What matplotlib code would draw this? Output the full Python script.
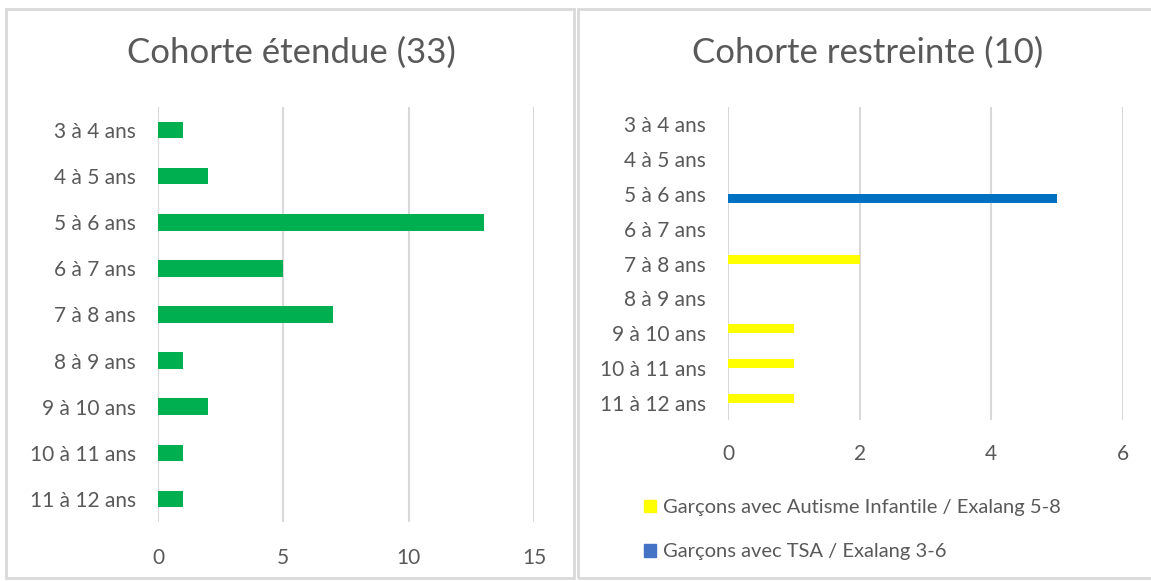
import matplotlib
matplotlib.use("Agg")
import matplotlib.pyplot as plt
import numpy as np
from matplotlib.patches import Rectangle, Patch

plt.rcParams['font.family'] = ['Lato', 'DejaVu Sans']

categories = ["3 à 4 ans", "4 à 5 ans", "5 à 6 ans", "6 à 7 ans", "7 à 8 ans",
              "8 à 9 ans", "9 à 10 ans", "10 à 11 ans", "11 à 12 ans"]
etendue = [1, 2, 13, 5, 7, 1, 2, 1, 1]
autisme_5_8 = [0, 0, 0, 0, 2, 0, 1, 1, 1]
tsa_3_6 = [0, 0, 5, 0, 0, 0, 0, 0, 0]
left_ticks = [0, 5, 10, 15]
right_ticks = [0, 2, 4, 6]
title_left = "Cohorte étendue (33)"
title_right = "Cohorte restreinte (10)"
label_autisme = "Garçons avec Autisme Infantile / Exalang 5-8"
label_tsa = "Garçons avec TSA / Exalang 3-6"

TXT = "#595959"
GRID = "#d9d9d9"
W, H = 1151, 581
fig = plt.figure(figsize=(W / 100, H / 100), dpi=100)

# panel frames
for (x0, x1) in [(6, 574), (578, 1156)]:
    fig.patches.append(Rectangle((x0 / W, 1 - 578 / H), (x1 - x0) / W, (578 - 9) / H,
                                 transform=fig.transFigure, fill=False,
                                 edgecolor=GRID, linewidth=2))

y = np.arange(len(categories))

# left axes
axL = fig.add_axes([158 / W, 1 - 522 / H, (534 - 158) / W, (522 - 107) / H])
axL.barh(y, etendue, height=0.36, color="#00B050", zorder=3)
axL.set_xlim(0, 15)
axL.set_ylim(len(categories) - 0.5, -0.5)
axL.set_xticks(left_ticks)
axL.set_yticks(y)
axL.set_yticklabels(categories)

# right axes
axR = fig.add_axes([728 / W, 1 - 420 / H, (1123 - 728) / W, (420 - 107) / H])
bh = 0.25
axR.barh(y - 0.125, autisme_5_8, height=bh, color="#FFFF00", zorder=3)
axR.barh(y + 0.125, tsa_3_6, height=bh, color="#0070C0", zorder=3)
axR.set_xlim(0, 6)
axR.set_ylim(len(categories) - 0.5, -0.5)
axR.set_xticks(right_ticks)
axR.set_yticks(y)
axR.set_yticklabels(categories)

for ax in (axL, axR):
    for s in ax.spines.values():
        s.set_visible(False)
    ax.grid(axis='x', color=GRID, linewidth=1.5, zorder=0)
    ax.set_axisbelow(True)
    ax.tick_params(axis='both', length=0, labelsize=15, colors=TXT)
    ax.tick_params(axis='y', pad=16)
axL.tick_params(axis='x', pad=19)
axR.tick_params(axis='x', pad=17)

fig.text(291 / W, 1 - 53 / H, title_left, ha='center', va='center', fontsize=25, color=TXT)
fig.text(868 / W, 1 - 53 / H, title_right, ha='center', va='center', fontsize=25, color=TXT)

handles = [Patch(color="#FFFF00", label=label_autisme),
           Patch(color="#4472C4", label=label_tsa)]
fig.legend(handles=handles, loc='upper left', bbox_to_anchor=(636 / W, 1 - 491 / H),
           frameon=False, fontsize=14.5, labelcolor=TXT, handlelength=0.6, handleheight=0.6,
           handletextpad=0.35, labelspacing=1.35, borderaxespad=0)

fig.savefig("out.png", dpi=100, facecolor="white")
